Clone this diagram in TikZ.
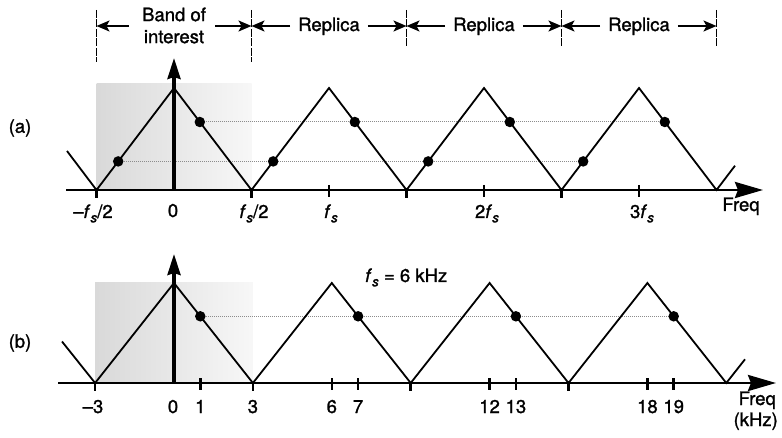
\documentclass[tikz,border=0pt]{standalone}
\usepackage{fontspec}
\setmainfont{TeX Gyre Heros}[FakeBold=1.3]
\usetikzlibrary{arrows.meta}
\newcommand{\fsv}{\textit{f}\kern0.2pt\raisebox{-0.45ex}{\fontsize{13.5}{13.5}\selectfont\textit{s}}}
\begin{document}
\begin{tikzpicture}[x=1pt,y=-1pt,
  every node/.style={font=\fontsize{18.5}{22}\selectfont, inner sep=0pt},
  axisline/.style={line width=2.8pt,-{Stealth[length=28pt,width=16pt,inset=3pt]}},
  vecarrow/.style={line width=3.4pt,-{Stealth[length=21pt,width=13pt,inset=2pt]}},
  spectrum/.style={line width=1.8pt,line join=miter},
  tk/.style={line width=2.6pt},
  aliasline/.style={black!45,line width=1pt,densely dotted},
  dot/.style={circle,fill=black,minimum size=10.5pt,inner sep=0pt},
  divider/.style={line width=1.3pt,dash pattern=on 8pt off 1.5pt},
  hdrarrow/.style={line width=1.6pt,-{Stealth[length=13pt,width=11pt,inset=3pt]}},
  band/.style={left color=black!15,right color=black!3,draw=none}
]
\useasboundingbox (0,0) rectangle (782,438);

% ---------- header ----------
\coordinate (d1) at (96.5,26);
\coordinate (d2) at (251.5,26);
\coordinate (d3) at (406.5,26);
\coordinate (d4) at (561.5,26);
\coordinate (d5) at (716.5,26);
\draw[divider] (96.5,10) -- (96.5,62);
\draw[divider] (251.5,10) -- (251.5,62);
\draw[divider] (406.5,10) -- (406.5,48);
\draw[divider] (561.5,10) -- (561.5,48);
\draw[divider] (716.5,10) -- (716.5,48);

\node[align=center] (boi) at (174,25.5) {Band of\\interest};
\node[anchor=base] (r1) at (329,31) {Replica};
\node[anchor=base] (r2) at (484,31) {Replica};
\node[anchor=base] (r3) at (639,31) {Replica};

\draw[hdrarrow] ([xshift=-13pt]boi.west |- d1) -- (d1);
\draw[hdrarrow] ([xshift=9pt]boi.east |- d1) -- (d2);
\draw[hdrarrow] ([xshift=-8pt]r1.west |- d1) -- (d2);
\draw[hdrarrow] ([xshift=8pt]r1.east |- d1) -- (d3);
\draw[hdrarrow] ([xshift=-8pt]r2.west |- d1) -- (d3);
\draw[hdrarrow] ([xshift=8pt]r2.east |- d1) -- (d4);
\draw[hdrarrow] ([xshift=-8pt]r3.west |- d1) -- (d4);
\draw[hdrarrow] ([xshift=8pt]r3.east |- d1) -- (d5);

% ---------- panel (a) ----------
\node (la) at (20,128) {(a)};
\fill[band] (96.5,84) rectangle (251.5,190);
\draw[aliasline] (199.8,122) -- (664.8,122);
\draw[aliasline] (118.2,161.4) -- (583.2,161.4);
\draw[spectrum] (67,151) -- (96.5,190) -- (174,88) -- (251.5,190) -- (329,88)
  -- (406.5,190) -- (484,88) -- (561.5,190) -- (639,88) -- (716.5,190) -- (735,165.7);
\draw[axisline] (66,190) -- (763,190);
\draw[vecarrow] (174,190) -- (174,58);
\foreach \x in {96.5,251.5,406.5,561.5} \draw[tk] (\x,189) -- (\x,198);
\foreach \x in {329,484,639} \draw[tk] (\x,185) -- (\x,197);
\foreach \x [count=\i] in {199.8,354.8,509.8,664.8} \node[dot] (ua\i) at (\x,122) {};
\foreach \x [count=\i] in {118.2,273.2,428.2,583.2} \node[dot] (la\i) at (\x,161.4) {};

\node[anchor=base] (ta1) at (93,218) {–\fsv/2};
\node[anchor=base] (ta2) at (173,217) {0};
\node[anchor=base] (ta3) at (254,218) {\fsv/2};
\node[anchor=base] (ta4) at (331,218) {\fsv};
\node[anchor=base] (ta5) at (487,218) {2\fsv};
\node[anchor=base] (ta6) at (642,218) {3\fsv};
\node[anchor=base] (fa) at (741,211) {Freq};

% ---------- panel (b) ----------
\node (lb) at (20,343) {(b)};
\fill[band] (95.1,283) rectangle (252.9,383);
\draw[aliasline] (200.3,316.3) -- (673.7,316.3);
\draw[spectrum] (62,341.5) -- (95.1,383) -- (174,283) -- (252.9,383) -- (331.8,283)
  -- (410.7,383) -- (489.6,283) -- (568.5,383) -- (647.4,283) -- (726.3,383) -- (745,359.3);
\draw[axisline] (58,383) -- (776,383);
\draw[vecarrow] (174,383) -- (174,254);
\foreach \x in {95.1,252.9,410.7,568.5} \draw[tk] (\x,382) -- (\x,391);
\foreach \x in {200.3,331.8,358.1,489.6,515.9,647.4,673.7} \draw[tk] (\x,378) -- (\x,390);
\foreach \x [count=\i] in {200.3,358.1,515.9,673.7} \node[dot] (db\i) at (\x,316.3) {};

\foreach \x/\t [count=\i] in {93/–3,173/0,200.3/1,252.9/3,331.8/6,358.1/7,489.6/12,515.9/13,647.4/18,673.7/19}
  \node[anchor=base] (tb\i) at (\x,413) {\t};
\node[anchor=base east] (fb) at (776,405) {Freq};
\node[anchor=base east] (kb) at (778,426) {(kHz)};
\node[anchor=base west] (fsn) at (365,282) {\fsv{} = 6 kHz};
\end{tikzpicture}
\end{document}
